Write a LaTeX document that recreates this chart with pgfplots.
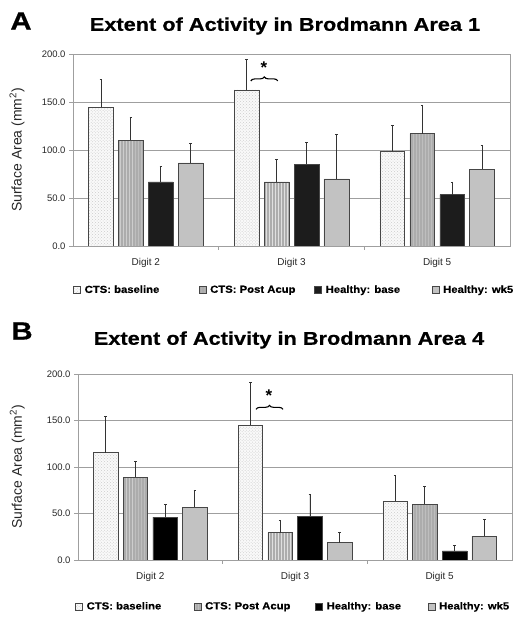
\documentclass[border=0pt]{standalone}
\usepackage{fontspec}
\setmainfont{Liberation Sans}
\newfontfamily\heavyfont{Liberation Sans Bold}[FakeStretch=1.18, FakeBold=0.6]
\newfontfamily\legfont{Liberation Sans Bold}[FakeStretch=1.1, FakeBold=0.4]
\usepackage{pgfplots}
\pgfplotsset{compat=1.18}
\usepackage{pgfplotstable}
\usetikzlibrary{patterns,decorations.pathreplacing}

\pgfplotstableread{
x base baseerr post posterr hb hberr wk wkerr
0 144.4 29.2 110.4 23.3 66.7 15.9 86.5 20.4
1 162.5 32.3 66.7 23.2 85.4 22.9 69.8 46.9
2 99.0 26.3 117.0 29.9 53.5 13.2 79.9 25.3
}\dataA
\pgfplotstableread{
x base baseerr post posterr hb hberr wk wkerr
0 115.4 39.4 89.2 16.9 46.2 14.0 56.6 18.7
1 144.8 46.6 29.4 13.6 47.3 23.0 18.6 11.5
2 63.4 27.6 60.2 19.0 9.7 6.4 25.8 17.9
}\dataB

\pgfplotsset{
  panel/.style={
    scale only axis, anchor=south west,
    xmin=-0.5, xmax=2.5, ymin=0, ymax=200,
    ytick={0,50,100,150,200},
    yticklabel style={/pgf/number format/fixed, /pgf/number format/fixed zerofill, /pgf/number format/precision=1},
    /pgf/number format/assume math mode=true,
    ymajorgrids, grid style={draw=gray!75, line width=0.7bp},
    axis line style={draw=gray!75, line width=0.7bp},
    xtick={0,1,2}, xticklabels={Digit 2,Digit 3,Digit 5},
    minor xtick={0.5,1.5},
    major x tick style={draw=none},
    minor x tick style={draw=gray!75, line width=0.7bp},
    ytick style={draw=gray!75, line width=0.7bp},
    tick align=outside, ytick pos=left, xtick pos=bottom,
    major tick length=4bp, minor tick length=4bp,
    tick label style={font=\fontsize{9.5}{11}\selectfont, text=black!85},
    xticklabel style={yshift=-5bp, font=\fontsize{10}{11}\selectfont},
    ylabel={Surface Area (mm\textsuperscript{2})},
    ylabel style={font=\fontsize{14}{16}\selectfont, text=black!85},
    legend columns=4,
    legend style={draw=none, fill=none, inner sep=0pt,
      font=\legfont\fontsize{10.3}{12}\selectfont,
      nodes={inner sep=0pt, anchor=west},
      /tikz/every odd column/.append style={column sep=4bp}},
    legend image code/.code={\draw[##1] (0bp,-3.5bp) rectangle (7bp,3.5bp);},
  },
  eb/.style={error bars/y dir=plus, error bars/y explicit,
    error bars/error bar style={line width=0.8bp, draw=gray!40!black},
    error bars/error mark options={rotate=90, mark size=1.3bp, line width=0.8bp, draw=gray!40!black}},
  s1/.style={ybar, bar width=0.17, bar shift=0, draw=gray!55!black, line width=0.5bp, fill=gray!5,
    postaction={pattern=crosshatch dots, pattern color=gray!40}},
  s2/.style={ybar, bar width=0.17, bar shift=0, draw=gray!55!black, line width=0.5bp, fill=gray!65,
    postaction={pattern=vertical lines, pattern color=gray!25}},
  s3/.style={ybar, bar width=0.17, bar shift=0, draw=gray!55!black, line width=0.5bp, fill=#1},
  s4/.style={ybar, bar width=0.17, bar shift=0, draw=gray!55!black, line width=0.5bp, fill=gray!48},
}

\begin{document}
\begin{tikzpicture}
\useasboundingbox (0,0) rectangle (513bp,617bp);

\node[font=\heavyfont\fontsize{25}{28}\selectfont] at (21bp,596bp) {A};
\node[font=\heavyfont\fontsize{18.5}{21}\selectfont] at (285bp,591bp) {Extent of Activity in Brodmann Area 1};

\begin{axis}[panel, at={(73bp,371bp)}, width=437bp, height=192bp,
  ylabel style={at={(axis description cs:-0.128,0.5)}, anchor=center},
  legend style={at={(axis description cs:0,-0.229)}, anchor=west}]
\addplot[s1, eb] table[x expr=\thisrow{x}-0.308, y=base, y error=baseerr]{\dataA};
\addlegendentry{\makebox[114bp][l]{CTS: baseline}}
\addplot[s2, eb] table[x expr=\thisrow{x}-0.103, y=post, y error=posterr]{\dataA};
\addlegendentry{\makebox[104bp][l]{CTS: Post Acup}}
\addplot[s3=gray!22!black, eb] table[x expr=\thisrow{x}+0.103, y=hb, y error=hberr]{\dataA};
\addlegendentry{\makebox[106bp][l]{Healthy: base}}
\addplot[s4, eb] table[x expr=\thisrow{x}+0.308, y=wk, y error=wkerr]{\dataA};
\addlegendentry{Healthy: wk5}
\draw[decorate, decoration={brace, amplitude=4bp}, line width=1.1bp] (axis cs:0.721,172) -- (axis cs:0.906,172);
\node[font=\bfseries\fontsize{17}{18}\selectfont] at (axis cs:0.81,186) {*};
\end{axis}

\node[font=\heavyfont\fontsize{25}{28}\selectfont] at (22bp,286bp) {B};
\node[font=\heavyfont\fontsize{18.5}{21}\selectfont] at (289bp,277bp) {Extent of Activity in Brodmann Area 4};

\begin{axis}[panel, at={(78bp,57bp)}, width=434bp, height=186bp,
  ylabel style={at={(axis description cs:-0.14,0.5)}, anchor=center},
  legend style={at={(axis description cs:-0.007,-0.25)}, anchor=west}]
\addplot[s1, eb] table[x expr=\thisrow{x}-0.308, y=base, y error=baseerr]{\dataB};
\addlegendentry{\makebox[107bp][l]{CTS: baseline}}
\addplot[s2, eb] table[x expr=\thisrow{x}-0.103, y=post, y error=posterr]{\dataB};
\addlegendentry{\makebox[110bp][l]{CTS: Post Acup}}
\addplot[s3=black, eb] table[x expr=\thisrow{x}+0.103, y=hb, y error=hberr]{\dataB};
\addlegendentry{\makebox[101bp][l]{Healthy: base}}
\addplot[s4, eb] table[x expr=\thisrow{x}+0.308, y=wk, y error=wkerr]{\dataB};
\addlegendentry{Healthy: wk5}
\draw[decorate, decoration={brace, amplitude=4bp}, line width=1.1bp] (axis cs:0.73,162) -- (axis cs:0.917,162);
\node[font=\bfseries\fontsize{17}{18}\selectfont] at (axis cs:0.82,177) {*};
\end{axis}
\end{tikzpicture}
\end{document}
